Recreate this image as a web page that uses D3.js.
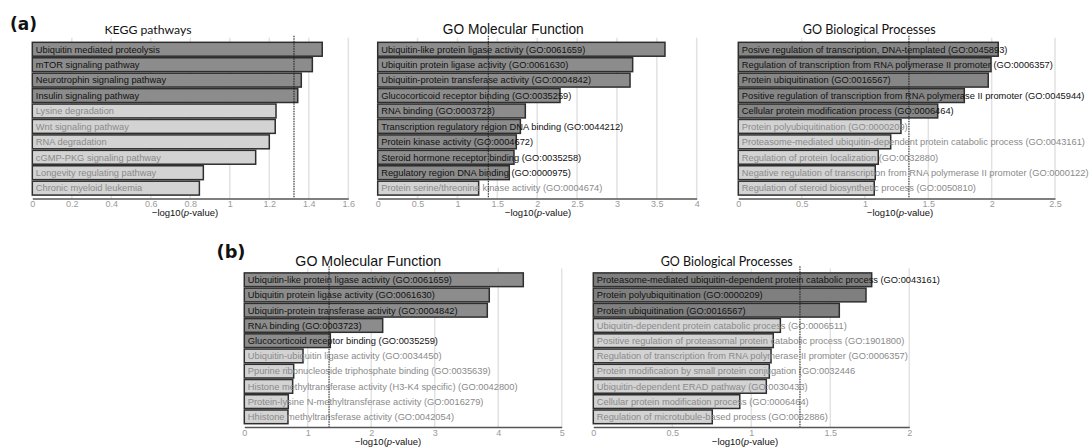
<!DOCTYPE html>
<html><head><meta charset="utf-8">
<script src="https://cdn.jsdelivr.net/npm/d3@7"></script>
<style>body{margin:0;background:#fff}svg{display:block}</style>
</head><body>
<script>
// ---------- data ----------
const keggLabels = ["Ubiquitin mediated proteolysis","mTOR signaling pathway","Neurotrophin signaling pathway","Insulin signaling pathway","Lysine degradation","Wnt signaling pathway","RNA degradation","cGMP-PKG signaling pathway","Longevity regulating pathway","Chronic myeloid leukemia"];
const keggValues = [1.468,1.418,1.362,1.344,1.234,1.230,1.200,1.131,0.866,0.846];

const mfALabels = ["Ubiquitin-like protein ligase activity (GO:0061659)","Ubiquitin protein ligase activity (GO:0061630)","Ubiquitin-protein transferase activity (GO:0004842)","Glucocorticoid receptor binding (GO:0035259)","RNA binding (GO:0003723)","Transcription regulatory region DNA binding (GO:0044212)","Protein kinase activity (GO:0004672)","Steroid hormone receptor binding (GO:0035258)","Regulatory region DNA binding (GO:0000975)","Protein serine/threonine kinase activity (GO:0004674)"];
const mfAValues = [3.602,3.197,3.164,2.286,1.851,1.789,1.738,1.709,1.650,1.266];

const bpALabels = ["Posive regulation of transcription, DNA-templated (GO:0045893)","Regulation of transcription from RNA polymerase II promoter (GO:0006357)","Protein ubiquitination (GO:0016567)","Positive regulation of transcription from RNA polymerase II promoter (GO:0045944)","Cellular protein modification process (GO:0006464)","Protein polyubiquitination (GO:0000209)","Proteasome-mediated ubiquitin-dependent protein catabolic process (GO:0043161)","Regulation of protein localization (GO:0032880)","Negative regulation of transcription from RNA polymerase II promoter (GO:0000122)","Regulation of steroid biosynthetic process (GO:0050810)"];
const bpAValues = [2.052,1.995,1.973,1.784,1.574,1.284,1.203,1.105,1.081,1.073];

const mfBLabels = ["Ubiquitin-like protein ligase activity (GO:0061659)","Ubiquitin protein ligase activity (GO:0061630)","Ubiquitin-protein transferase activity (GO:0004842)","RNA binding (GO:0003723)","Glucocorticoid receptor binding (GO:0035259)","Ubiquitin-ubiquitin ligase activity (GO:0034450)","Ppurine ribonucleoside triphosphate binding (GO:0035639)","Histone methyltransferase activity (H3-K4 specific) (GO:0042800)","Protein-lysine N-methyltransferase activity (GO:0016279)","Hhistone methyltransferase activity (GO:0042054)"];
const mfBValues = [4.395,3.859,3.828,2.180,1.355,0.925,0.778,0.762,0.693,0.688];

const bpBLabels = ["Proteasome-mediated ubiquitin-dependent protein catabolic process (GO:0043161)","Protein polyubiquitination (GO:0000209)","Protein ubiquitination (GO:0016567)","Ubiquitin-dependent protein catabolic process (GO:0006511)","Positive regulation of proteasomal protein catabolic process (GO:1901800)","Regulation of transcription from RNA polymerase II promoter (GO:0006357)","Protein modification by small protein conjugation (GO:0032446","Ubiquitin-dependent ERAD pathway (GO:0030433)","Cellular protein modification process (GO:0006464)","Regulation of microtubule-based process (GO:0032886)"];
const bpBValues = [1.762,1.726,1.557,1.184,1.139,1.125,1.114,1.095,0.927,0.753];

const panelTitles = ["KEGG pathways","GO Molecular Function","GO Biological Processes","GO Molecular Function","GO Biological Processes"];
const axisMax = [1.6, 4, 2.5, 5, 2];
const tickValues = [[0,0.2,0.4,0.6,0.8,1,1.2,1.4,1.6],[0,0.5,1,1.5,2,2.5,3,3.5,4],[0,0.5,1,1.5,2,2.5],[0,1,2,3,4,5],[0,0.5,1,1.5,2]];
const thresholds = [1.325, 1.387, 1.347, 1.335, 1.308];
const sectionLabels = ["(a)","(b)"];

// ---------- layout ----------
const panels = [
  {labels:keggLabels, values:keggValues, x0:32.3, x1:348.3, top:41.7, bot:195.7, tx:148, ty:33.5, tw:87, ax:185, tfont:"Lato, 'Open Sans', sans-serif", dark:"#8c8c8c"},
  {labels:mfALabels,  values:mfAValues,  x0:377.7, x1:696.7, top:41.7, bot:195.7, tx:513.3, ty:34, tw:141, ax:538, tfont:"'Liberation Sans', Arial, sans-serif", dark:"#8c8c8c"},
  {labels:bpALabels,  values:bpAValues,  x0:738.3, x1:1055, top:41.7, bot:195.7, tx:869.3, ty:33.5, tw:133, ax:900, tfont:"Lato, 'Open Sans', sans-serif", dark:"#868686"},
  {labels:mfBLabels,  values:mfBValues,  x0:244.3, x1:561.7, top:272.3, bot:424.3, tx:368.3, ty:266, tw:146, ax:388, tfont:"'Liberation Sans', Arial, sans-serif", dark:"#8c8c8c"},
  {labels:bpBLabels,  values:bpBValues,  x0:593.3, x1:909.3, top:272.3, bot:424.3, tx:726.7, ty:265.5, tw:132, ax:745, tfont:"Lato, 'Open Sans', sans-serif", dark:"#7f7f7f"}
];

const svg = d3.select("body").append("svg").attr("width",1091).attr("height",448);
const SANS = "'Liberation Sans', Arial, sans-serif";

function fitText(sel, target, size){
  sel.style("font-size", size+"px");
  const w = sel.node().getComputedTextLength();
  if (w>0) sel.style("font-size", (size*target/w).toFixed(2)+"px");
}

panels.forEach((p,i)=>{
  const g = svg.append("g");
  const x = d3.scaleLinear().domain([0, axisMax[i]]).range([p.x0, p.x1]);
  const y = d3.scaleBand().domain(p.labels).range([p.top, p.bot]).paddingInner(0.1).paddingOuter(0.04);
  const axisY = p.bot + 2.8;

  // gridlines
  g.selectAll(".grid").data(tickValues[i].slice(1)).join("line")
    .attr("x1",d=>x(d)).attr("x2",d=>x(d))
    .attr("y1",p.top-4).attr("y2",axisY)
    .attr("stroke","#e2e2e2").attr("stroke-width",1.5);

  // bars
  const thr = thresholds[i];
  g.selectAll("rect").data(p.values).join("rect")
    .attr("x",x(0)).attr("y",(d,k)=>y(p.labels[k]))
    .attr("width",d=>x(d)-x(0)).attr("height",y.bandwidth())
    .attr("fill",d=> d>thr ? p.dark : "#d3d3d3")
    .attr("stroke","#2e2e2e").attr("stroke-width",1.5);

  // labels
  g.selectAll(".lab").data(p.values).join("text")
    .attr("x",x(0)+3.5).attr("y",(d,k)=>y(p.labels[k])+y.bandwidth()/2)
    .attr("dy","0.36em")
    .style("font-family",SANS).style("font-size","9.3px")
    .attr("fill",d=> d>thr ? "#111" : "#8a8a8a")
    .text((d,k)=>p.labels[k]);

  // threshold dotted line
  g.append("line").attr("x1",x(thr)).attr("x2",x(thr))
    .attr("y1",p.top-6).attr("y2",axisY)
    .attr("stroke","#222").attr("stroke-width",1.1).attr("stroke-dasharray","1.5,1");

  // axis
  const ax = g.append("g").attr("transform",`translate(0,${axisY})`)
    .call(d3.axisBottom(x).tickValues(tickValues[i]).tickSize(0).tickPadding(2.5).tickFormat(d3.format("~g")));
  ax.select(".domain").attr("stroke","#555").attr("stroke-width",1.5);
  ax.selectAll("text").style("font-family",SANS).style("font-size","9px").attr("fill","#9a9a9a");

  // axis title
  const at = g.append("text").attr("x",p.ax).attr("y",axisY+17.8)
    .attr("text-anchor","middle").style("font-family",SANS).style("font-size","9.5px").attr("fill","#111");
  at.append("tspan").text("\u2212log10(");
  at.append("tspan").style("font-style","italic").text("p");
  at.append("tspan").text("-value)");

  // title
  const t = g.append("text").attr("x",p.tx).attr("y",p.ty).attr("text-anchor","middle")
    .style("font-family",p.tfont).attr("fill","#111").text(panelTitles[i]);
  fitText(t, p.tw, 13);
});

// section labels
const sl = [{x:10,y:30},{x:216.5,y:258}];
sectionLabels.forEach((s,k)=>{
  const t = svg.append("text").attr("x",sl[k].x).attr("y",sl[k].y)
    .style("font-family","'DejaVu Sans', Verdana, sans-serif").style("font-weight","bold")
    .attr("fill","#111").text(s);
  fitText(t, k===0?27:29, 16);
});
</script>
</body></html>
